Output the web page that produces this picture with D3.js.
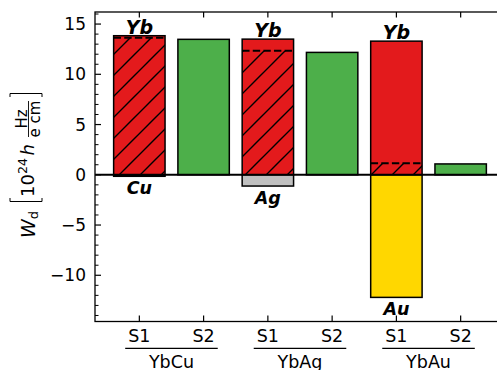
<!DOCTYPE html>
<html><head><meta charset="utf-8">
<script src="https://cdn.jsdelivr.net/npm/d3@7"></script>
<style>body{margin:0;background:#fff}svg{display:block;font-family:"DejaVu Sans",sans-serif}</style>
</head><body><svg id="c" width="497" height="370"></svg>
<script>
const groups = ["YbCu", "YbAg", "YbAu"];
const sites = ["S1", "S2"];
const ybTotal = [13.84, 13.50, 13.30];
const ybHatched = [13.64, 12.34, 1.15];
const metalValue = [-0.15, -1.12, -12.2];
const metalLabel = ["Cu", "Ag", "Au"];
const metalColor = ["#e31a1c", "#c0c0c0", "#ffd700"];
const s2Value = [13.48, 12.18, 1.08];
const yMajor = [-10, -5, 0, 5, 10, 15];

const svg = d3.select("#c");
const x = d3.scaleLinear().domain([-0.69, 5.69]).range([95, 505]);
const y = d3.scaleLinear().domain([-14.6, 16.2]).range([321.5, 12]);
const bw = 0.8;
const RED = "#e31a1c", GREEN = "#4daf4a";

const defs = svg.append("defs");
const s = 21;
const pat = defs.append("pattern").attr("id", "hatch").attr("patternUnits", "userSpaceOnUse")
  .attr("width", s).attr("height", s);
pat.append("path").attr("d", `M0,${s} L${s},0 M-2,2 L2,-2 M${s-2},${s+2} L${s+2},${s-2}`)
  .attr("stroke", "#000").attr("stroke-width", 1.4);

const g = svg.append("g");
groups.forEach((grp, i) => {
  const p1 = 2 * i, p2 = 2 * i + 1;
  const xl = x(p1 - bw / 2), xr = x(p1 + bw / 2);
  g.append("rect").attr("x", x(p2 - bw / 2)).attr("width", x(p2 + bw / 2) - x(p2 - bw / 2))
    .attr("y", y(s2Value[i])).attr("height", y(0) - y(s2Value[i]))
    .attr("fill", GREEN).attr("stroke", "#000").attr("stroke-width", 1.5);
  g.append("rect").attr("x", xl).attr("width", xr - xl)
    .attr("y", y(ybTotal[i])).attr("height", y(0) - y(ybTotal[i])).attr("fill", RED);
  g.append("rect").attr("x", xl).attr("width", xr - xl)
    .attr("y", y(ybHatched[i])).attr("height", y(0) - y(ybHatched[i])).attr("fill", "url(#hatch)");
  g.append("line").attr("x1", xl).attr("x2", xr).attr("y1", y(ybHatched[i])).attr("y2", y(ybHatched[i]))
    .attr("stroke", "#000").attr("stroke-width", 2).attr("stroke-dasharray", "7.4,3.2");
  g.append("rect").attr("x", xl).attr("width", xr - xl)
    .attr("y", y(ybTotal[i])).attr("height", y(0) - y(ybTotal[i]))
    .attr("fill", "none").attr("stroke", "#000").attr("stroke-width", 1.5);
  g.append("rect").attr("x", xl).attr("width", xr - xl)
    .attr("y", y(0)).attr("height", y(metalValue[i]) - y(0))
    .attr("fill", metalColor[i]).attr("stroke", "#000").attr("stroke-width", 1.5);
  g.append("text").attr("x", x(p1)).attr("y", y(ybTotal[i]) - 2).attr("text-anchor", "middle")
    .attr("font-size", 19).attr("font-weight", "bold").attr("font-style", "italic").text("Yb");
  g.append("text").attr("x", x(p1)).attr("y", y(metalValue[i]) + 17.5).attr("text-anchor", "middle")
    .attr("font-size", 17.5).attr("font-weight", "bold").attr("font-style", "italic").text(metalLabel[i]);
});

svg.append("line").attr("x1", 95).attr("x2", 505).attr("y1", y(0)).attr("y2", y(0))
  .attr("stroke", "#000").attr("stroke-width", 2);

svg.append("rect").attr("x", 95).attr("y", 12).attr("width", 410).attr("height", 309.5)
  .attr("fill", "none").attr("stroke", "#000").attr("stroke-width", 1.3);

const yMinor = d3.range(-14, 17).filter(v => !yMajor.includes(v));
yMinor.forEach(v => svg.append("line").attr("x1", 95).attr("x2", 98.5).attr("y1", y(v)).attr("y2", y(v))
  .attr("stroke", "#000").attr("stroke-width", 1));
yMajor.forEach(v => {
  svg.append("line").attr("x1", 95).attr("x2", 101).attr("y1", y(v)).attr("y2", y(v))
    .attr("stroke", "#000").attr("stroke-width", 1.2);
  svg.append("text").attr("x", 86).attr("y", y(v)).attr("dy", "0.36em").attr("text-anchor", "end")
    .attr("font-size", 17).text(v < 0 ? "\u2212" + Math.abs(v) : v);
});

groups.forEach((grp, i) => {
  sites.forEach((st, j) => {
    const p = 2 * i + j;
    svg.append("line").attr("x1", x(p)).attr("x2", x(p)).attr("y1", 321.5).attr("y2", 315.5)
      .attr("stroke", "#000").attr("stroke-width", 1.2);
    svg.append("line").attr("x1", x(p)).attr("x2", x(p)).attr("y1", 12).attr("y2", 17.5)
      .attr("stroke", "#000").attr("stroke-width", 1.2);
    svg.append("text").attr("x", x(p)).attr("y", 341.5).attr("text-anchor", "middle")
      .attr("font-size", 17.5).text(st);
  });
  const c = 2 * i + 0.5;
  svg.append("line").attr("x1", x(c - 0.72)).attr("x2", x(c + 0.72)).attr("y1", 348.3).attr("y2", 348.3)
    .attr("stroke", "#000").attr("stroke-width", 1.3);
  svg.append("text").attr("x", x(c)).attr("y", 367.5).attr("text-anchor", "middle")
    .attr("font-size", 17.5).text(grp);
});

const yl = svg.append("g").attr("transform", "rotate(-90)");
const wt = yl.append("text").attr("x", -238).attr("y", 35).attr("font-size", 19);
wt.append("tspan").attr("font-style", "italic").text("W");
wt.append("tspan").attr("font-size", 13).attr("dy", 3).text("d");
const br = (sy, dir) => yl.append("path")
  .attr("d", `M${-sy + dir * 3.5},10 L${-sy},10 L${-sy},42 L${-sy + dir * 3.5},42`)
  .attr("fill", "none").attr("stroke", "#000").attr("stroke-width", 1);
br(201.5, 1);
br(93.5, -1);
const tt = yl.append("text").attr("x", -197).attr("y", 33.5).attr("font-size", 18);
tt.append("tspan").text("10");
tt.append("tspan").attr("font-size", 12.6).attr("dy", -6.5).text("24");
yl.append("text").attr("x", -155.5).attr("y", 33.5).attr("font-size", 18).attr("font-style", "italic").text("h");
yl.append("text").attr("x", -119).attr("y", 26.5).attr("font-size", 15).attr("text-anchor", "middle").text("Hz");
yl.append("line").attr("x1", -137).attr("x2", -101).attr("y1", 28.5).attr("y2", 28.5)
  .attr("stroke", "#000").attr("stroke-width", 0.9);
yl.append("text").attr("x", -119).attr("y", 39.5).attr("font-size", 15).attr("text-anchor", "middle").text("e cm");
</script></body></html>
